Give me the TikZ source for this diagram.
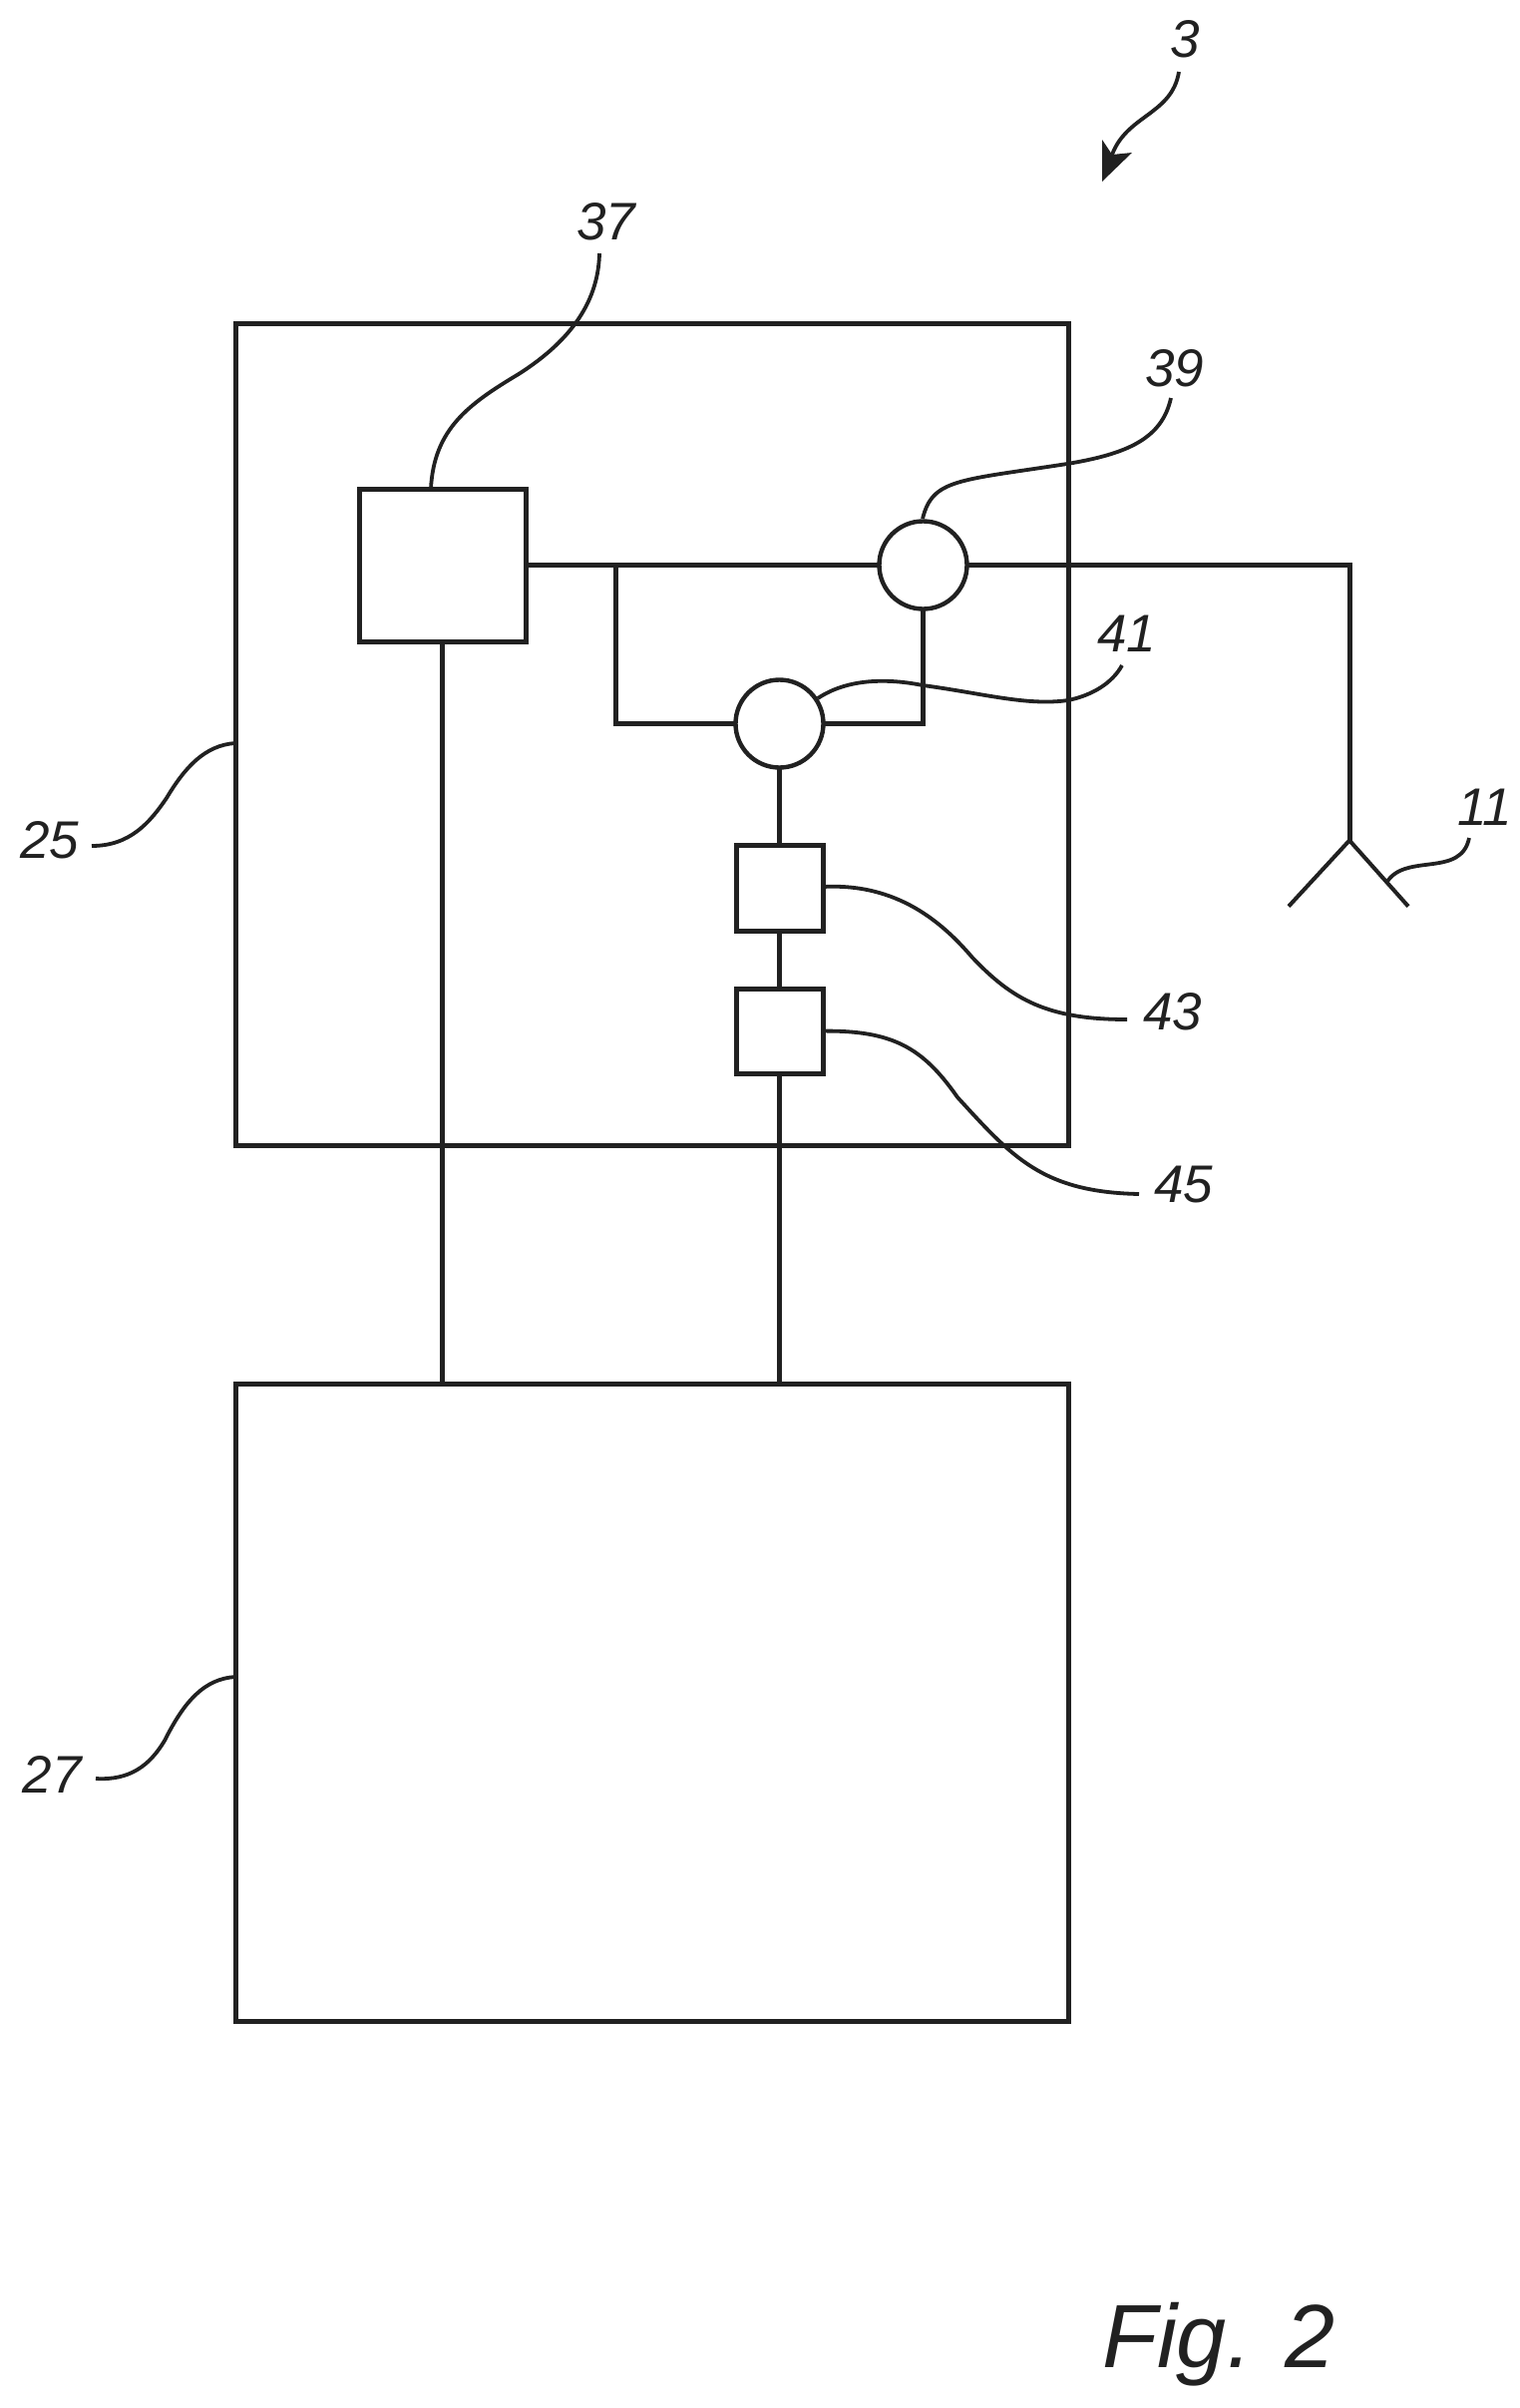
\documentclass[tikz,border=0pt]{standalone}
\usepackage{fontspec}
\setmainfont{Liberation Sans}
\definecolor{ink}{gray}{0.13}
\tikzset{
  wire/.style={draw=ink,line width=2.5pt},
  lead/.style={draw=ink,line width=1.9pt},
  blockbox/.style={rectangle,draw=ink,line width=2.5pt,inner sep=0pt,outer sep=0pt},
  roundel/.style={circle,draw=ink,line width=2.2pt,inner sep=0pt,outer sep=0pt,minimum size=44pt},
  reflabel/.style={anchor=base west,inner sep=0pt,outer sep=0pt,text=ink,font=\itshape\fontsize{26.5pt}{28pt}\selectfont},
  figlabel/.style={anchor=base west,inner sep=0pt,outer sep=0pt,text=ink,font=\itshape\fontsize{45pt}{48pt}\selectfont}
}
\begin{document}
\begin{tikzpicture}[x=0.5pt,y=-0.5pt]
\useasboundingbox (0,0) rectangle (1524,2414);
% blocks
\node[blockbox,minimum width=417.25pt,minimum height=412.3pt] (b25) at (653.75,736.3) {};
\node[blockbox,minimum width=417.25pt,minimum height=319.5pt] (b27) at (653.75,1706.5) {};
\node[blockbox,minimum width=83.5pt,minimum height=76.5pt] (b37) at (443.5,566.5) {};
\node[blockbox,minimum width=43.5pt,minimum height=43.3pt] (b43) at (781.5,890.3) {};
\node[blockbox,minimum width=43.5pt,minimum height=42.5pt] (b45) at (781.5,1033.5) {};
\node[roundel] (c39) at (925.5,566.5) {};
\node[roundel] (c41) at (781.5,725.5) {};
% named points
\coordinate (j1) at (617,566.5);
\coordinate (corner) at (1353,566.5);
\coordinate (apex) at (1353,842.5);
\coordinate (legl) at (1292,908.6);
\coordinate (legr) at (1412,908.6);
% wires
\draw[wire] (b37.east) -- (c39.west);
\draw[wire,line join=miter] (c39.east) -- (corner) -- (apex);
\draw[wire,line width=2pt] (legl) -- (apex) -- (legr);
\draw[wire] (j1) |- (c41.west);
\draw[wire] (c41.east) -| (c39.south);
\draw[wire] (b37.south) -- (b37.south |- b27.north);
\draw[wire] (c41.south) -- (b43.north);
\draw[wire] (b43.south) -- (b45.north);
\draw[wire] (b45.south) -- (b45.south |- b27.north);
% labels
\node[reflabel] (t3) at (1173,58) {3};
\node[reflabel] (t37) at (578,240) {37};
\node[reflabel] (t39) at (1148,387) {39};
\node[reflabel] (t41) at (1100,653) {41};
\node[reflabel] (t11) at (1461,827) {11};
\node[reflabel] (t25) at (20,860) {25};
\node[reflabel] (t27) at (23,1797) {27};
\node[reflabel] (t43) at (1146,1032) {43};
\node[reflabel] (t45) at (1157,1205) {45};
\node[figlabel] (fig) at (1105,2373) {Fig. 2};
% leader ends
\coordinate (s37) at (601,254);   \coordinate (e37) at (432,490);
\coordinate (s39) at (1174,399);  \coordinate (e39) at (925,520);
\coordinate (s41) at (1125,667);  \coordinate (e41) at (820,700);
\coordinate (s43) at (1130,1022); \coordinate (e43) at (825,889);
\coordinate (s45) at (1142,1197); \coordinate (e45) at (825,1033.6);
\coordinate (s11) at (1473,840);  \coordinate (e11) at (1391,883.6);
\coordinate (s25) at (92,848);    \coordinate (e25) at (236,745);
\coordinate (s27) at (96,1783);   \coordinate (e27) at (236,1681);
\coordinate (s3) at (1182,72);    \coordinate (e3) at (1115,155);
\coordinate (tip) at (1105,182);
\coordinate (barba) at (1105,140);
\coordinate (barbb) at (1135,153);
% leaders
\draw[lead] (s37) .. controls (600,300) and (575,340) .. (520,375) .. controls (470,405) and (435,430) .. (e37);
\draw[lead] (e39) .. controls (935,480) and (960,482) .. (1070,465) .. controls (1130,455) and (1165,440) .. (s39);
\draw[lead] (e41) .. controls (850,680) and (890,680) .. (925,687) .. controls (985,695) and (1030,708) .. (1071,702) .. controls (1095,697) and (1115,685) .. (s41);
\draw[lead] (e43) .. controls (900,885) and (945,925) .. (975,960) .. controls (1015,1002) and (1050,1022) .. (s43);
\draw[lead] (e45) .. controls (895,1033) and (925,1050) .. (960,1100) .. controls (1015,1160) and (1045,1195) .. (s45);
\draw[lead] (e11) .. controls (1410,855) and (1465,880) .. (s11);
\draw[lead] (s25) .. controls (130,848) and (150,825) .. (167,800) .. controls (185,770) and (205,747) .. (e25);
\draw[lead] (s27) .. controls (130,1785) and (150,1770) .. (165,1745) .. controls (185,1705) and (205,1683) .. (e27);
\draw[lead] (s3) .. controls (1175,115) and (1130,115) .. (e3);
\fill[ink] (tip) -- (barba) -- (e3) -- (barbb) -- cycle;
\end{tikzpicture}
\end{document}
